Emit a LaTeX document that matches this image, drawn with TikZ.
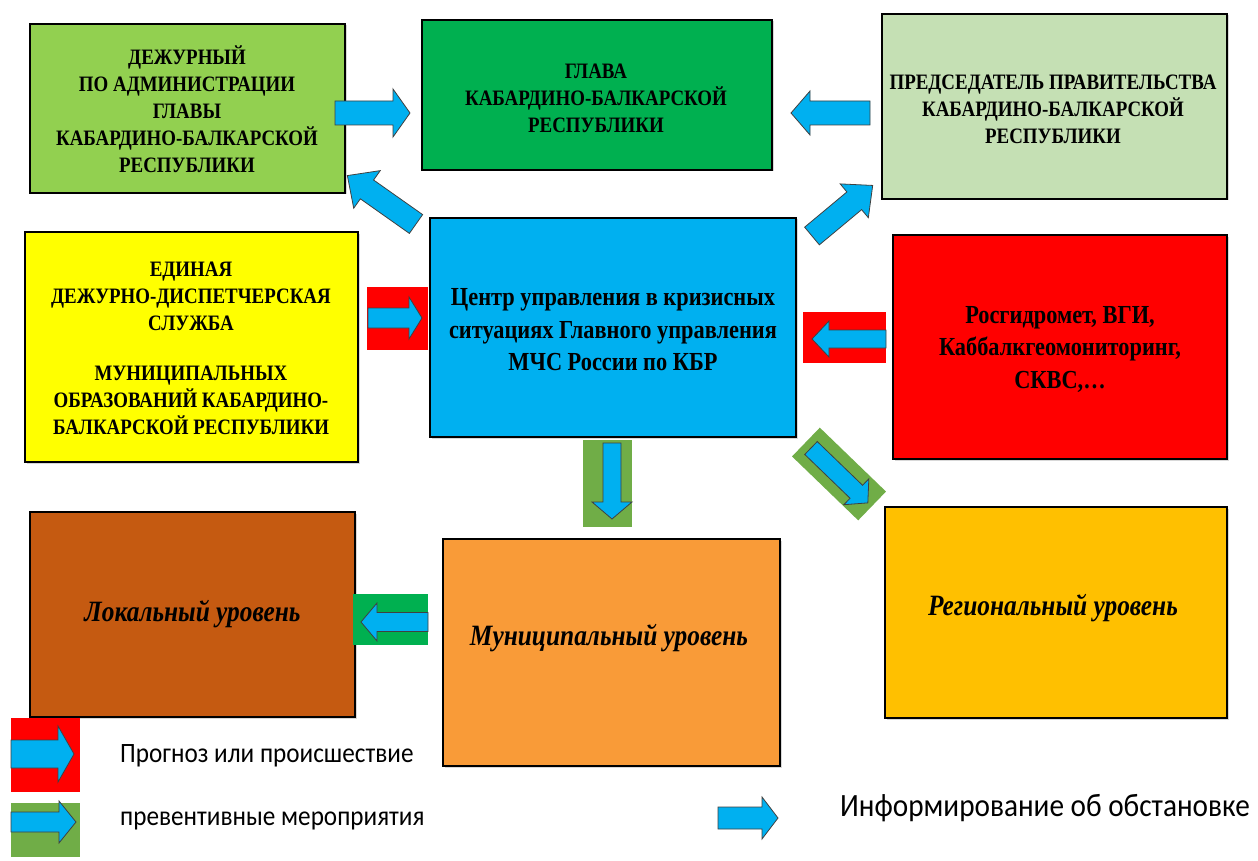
\documentclass[tikz,border=0pt]{standalone}
\usepackage{fontspec}
\setmainfont[FakeStretch=0.86]{Liberation Serif}
\newfontfamily\legfont[FakeStretch=0.9]{Carlito}
\usetikzlibrary{shadows}
\definecolor{cduty}{HTML}{92D050}
\definecolor{chead}{HTML}{00B050}
\definecolor{cchair}{HTML}{C5E0B4}
\definecolor{cyel}{HTML}{FFFF00}
\definecolor{cblue}{HTML}{00B0F0}
\definecolor{cred}{HTML}{FF0000}
\definecolor{cloc}{HTML}{C55A11}
\definecolor{cmun}{HTML}{F99B38}
\definecolor{creg}{HTML}{FFC000}
\definecolor{cgrn}{HTML}{70AD47}
\tikzset{
  box/.style={draw=black, line width=2.5pt, align=center, inner sep=0pt,
    drop shadow={shadow xshift=1.5pt, shadow yshift=-1.5pt, opacity=0.3}},
  caps/.style={align=center, inner sep=0pt, font=\bfseries\fontsize{22}{27}\selectfont},
  arrowstyle/.style={fill=cblue, draw=black!75, line width=0.8pt, line join=miter},
  bgrect/.style={inner sep=0pt, draw=none},
  level/.style={font=\bfseries\itshape\fontsize{29.5}{34}\selectfont},
  legtext/.style={font=\legfont\fontsize{28}{32}\selectfont, anchor=west, inner sep=0pt},
  pics/barrow/.style n args={4}{code={
    \draw[arrowstyle] (0,-#2) -- ({#1-#4},-#2) -- ({#1-#4},-#3) -- (#1,0)
      -- ({#1-#4},#3) -- ({#1-#4},#2) -- (0,#2) -- cycle;
  }}
}
\begin{document}
\begin{tikzpicture}[x=1pt,y=-1pt]
\useasboundingbox (0,0) rectangle (1258,861);
\fill[white] (0,0) rectangle (1258,861);

% boxes
\node[box, fill=cduty, minimum width=315pt, minimum height=169pt] (duty) at (187.5,108.5) {};
\node[caps] (dutytext) at (187,109)
 {ДЕЖУРНЫЙ\\ПО АДМИНИСТРАЦИИ\\ГЛАВЫ\\КАБАРДИНО-БАЛКАРСКОЙ\\РЕСПУБЛИКИ};
\node[box, fill=chead, minimum width=350pt, minimum height=150pt] (head) at (597,95) {};
\node[caps] (headtext) at (596,98) {ГЛАВА\\КАБАРДИНО-БАЛКАРСКОЙ\\РЕСПУБЛИКИ};
\node[box, fill=cchair, minimum width=345pt, minimum height=185pt] (chair) at (1054.5,106.5) {};
\node[caps] (chairtext) at (1053,109) {ПРЕДСЕДАТЕЛЬ ПРАВИТЕЛЬСТВА\\КАБАРДИНО-БАЛКАРСКОЙ\\РЕСПУБЛИКИ};
\node[box, fill=cyel, minimum width=333pt, minimum height=230pt] (edds) at (191.5,347) {};
\node[caps] (eddstext) at (191,348.5) {ЕДИНАЯ\\ДЕЖУРНО-ДИСПЕТЧЕРСКАЯ\\СЛУЖБА\\[23pt]МУНИЦИПАЛЬНЫХ\\ОБРАЗОВАНИЙ КАБАРДИНО-\\БАЛКАРСКОЙ РЕСПУБЛИКИ};
\node[box, fill=cblue, minimum width=366pt, minimum height=219pt] (center) at (613,327.5) {};
\node[align=center, inner sep=0pt, font=\bfseries\fontsize{26}{32.5}\selectfont] (centertext) at (613,330)
 {Центр управления в кризисных\\ситуациях Главного управления\\МЧС России по КБР};
\node[box, fill=cred, minimum width=334pt, minimum height=224pt] (rosg) at (1060,347) {};
\node[align=center, inner sep=0pt, font=\bfseries\fontsize{26}{32.5}\selectfont] (rosgtext) at (1060,349)
 {Росгидромет, ВГИ,\\Каббалкгеомониторинг,\\СКВС,\dots};
\node[box, fill=cloc, minimum width=325pt, minimum height=205pt, level] (local) at (192.5,614.5) {Локальный уровень};
\node[box, fill=cmun, minimum width=337pt, minimum height=227pt] (mun) at (611.5,652.5) {};
\node[level, inner sep=0pt] (muntext) at (609,638) {Муниципальный уровень};
\node[box, fill=creg, minimum width=342pt, minimum height=211pt] (reg) at (1056,612.5) {};
\node[level, inner sep=0pt] (regtext) at (1053,608) {Региональный уровень};

% plain information arrows
\pic at (335,113) {barrow={75}{12}{24}{17}};
\pic[rotate=180] at (870,113) {barrow={79}{12}{22}{19}};
\pic[rotate=144.8] at (416,224) {barrow={84}{11.5}{23}{24}};
\pic[rotate=39.8] at (812,236) {barrow={79}{11.5}{22}{24}};

% forecast (red) arrows
\fill[cred] (367,287) rectangle (428,350);
\pic at (368,318) {barrow={54}{10}{21}{13}};
\fill[cred] (803,312) rectangle (886,363);
\pic[rotate=180] at (886,339) {barrow={74}{9}{18}{17}};

% preventive (green) arrows
\fill[cgrn] (583,440) rectangle (632,527);
\pic[rotate=-90] at (612,443) {barrow={76}{9}{20}{17}};
\node[bgrect, fill=cgrn, minimum width=92pt, minimum height=40pt, rotate=-44] (diagbg) at (839,474) {};
\pic[rotate=-44] at (811,448) {barrow={79}{9}{18}{16}};
\fill[chead] (353,594) rectangle (428,645);
\pic[rotate=180] at (428,622) {barrow={67}{9.5}{19}{16}};

% legend
\fill[cred] (11,718) rectangle (80,792);
\pic at (11,754) {barrow={63}{14}{28}{16}};
\node[legtext] (leg1) at (120,756) {Прогноз или происшествие};
\fill[cgrn] (11,803) rectangle (80,857);
\pic at (11,822) {barrow={65}{10}{21}{17}};
\node[legtext] (leg2) at (120,821) {превентивные мероприятия};
\pic at (718,818) {barrow={60}{11}{21}{16}};
\node[legtext, font=\legfont\fontsize{32.5}{38}\selectfont] (leg3) at (840,808) {Информирование об обстановке};
\end{tikzpicture}
\end{document}
